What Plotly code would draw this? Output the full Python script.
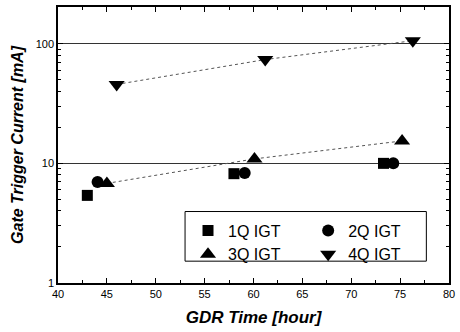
import plotly.graph_objects as go

q1_x = [43, 58, 73.3]
q1_y = [5.4, 8.2, 10.0]
q2_x = [44.05, 59.1, 74.3]
q2_y = [7.0, 8.3, 10.0]
q3_x = [45, 60.1, 75.2]
q3_y = [6.8, 10.9, 15.4]
q4_x = [46, 61.2, 76.3]
q4_y = [45.7, 73.7, 106]

FONT = "Liberation Sans, Arial, sans-serif"
fig = go.Figure()

line_style = dict(color="#555555", width=1, dash="dot")
fig.add_trace(go.Scatter(x=q3_x, y=q3_y, mode="lines", line=line_style, showlegend=False, hoverinfo="skip"))
fig.add_trace(go.Scatter(x=q4_x, y=q4_y, mode="lines", line=line_style, showlegend=False, hoverinfo="skip"))

fig.add_trace(go.Scatter(x=q1_x, y=q1_y, mode="markers", name="1Q IGT",
                         marker=dict(symbol="square", size=11, color="black"), legend="legend"))
fig.add_trace(go.Scatter(x=q3_x, y=q3_y, mode="markers", name="3Q IGT",
                         marker=dict(symbol="triangle-up", size=14, color="black"), legend="legend"))
fig.add_trace(go.Scatter(x=q2_x, y=q2_y, mode="markers", name="2Q IGT",
                         marker=dict(symbol="circle", size=12, color="black"), legend="legend2"))
fig.add_trace(go.Scatter(x=q4_x, y=q4_y, mode="markers", name="4Q IGT",
                         marker=dict(symbol="triangle-down", size=14, color="black"), legend="legend2"))

W, H = 460, 332
ml, mr, mt, mb = 58, 5, 5, 49
pw, ph = W - ml - mr, H - mt - mb

def px(xp):
    return (xp - ml) / pw

def py(yp):
    return 1 - (yp - mt) / ph

legend_common = dict(bgcolor="rgba(0,0,0,0)", borderwidth=0, font=dict(family=FONT, size=16, color="black"),
                     xanchor="left", yanchor="top", tracegroupgap=0, itemwidth=30)

fig.update_layout(
    width=W, height=H,
    margin=dict(l=ml, r=mr, t=mt, b=mb),
    paper_bgcolor="white", plot_bgcolor="white",
    font=dict(family=FONT, color="black"),
    legend=dict(x=px(190), y=py(213), **legend_common),
    legend2=dict(x=px(312), y=py(213), **legend_common),
    shapes=[dict(type="rect", xref="paper", yref="paper",
                 x0=px(187), x1=px(432), y0=py(211), y1=py(261),
                 line=dict(color="black", width=1), fillcolor="rgba(0,0,0,0)")],
)

fig.update_xaxes(
    range=[40, 80], tick0=40, dtick=5,
    ticks="inside", ticklen=5, tickwidth=1, tickcolor="black",
    minor=dict(ticks="inside", ticklen=3, dtick=2.5, tickcolor="black"),
    showline=True, linecolor="black", linewidth=1.5, mirror="allticks",
    showgrid=False, zeroline=False,
    tickfont=dict(family=FONT, size=11, color="black"),
    title=dict(text="<b><i>GDR Time [hour]</i></b>", font=dict(family=FONT, size=17, color="black"), standoff=12),
)
fig.update_yaxes(
    type="log", range=[0, 2.307], dtick=1,
    ticks="inside", ticklen=5, tickwidth=1, tickcolor="black",
    minor=dict(ticks="inside", ticklen=3, tickcolor="black", showgrid=False),
    showline=True, linecolor="black", linewidth=1.5, mirror="allticks",
    showgrid=True, gridcolor="#333333", gridwidth=1, zeroline=False,
    tickfont=dict(family=FONT, size=11, color="black"),
    title=dict(text="<b><i>Gate Trigger Current [mA]</i></b>", font=dict(family=FONT, size=16, color="black"), standoff=8),
)

fig.write_html("out.html")
